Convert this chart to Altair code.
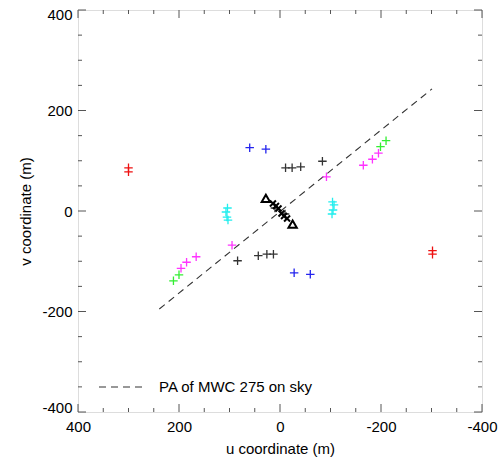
import altair as alt
import pandas as pd

# ---- data ----
red_u = [300, 300, -302, -302]
red_v = [86, 78, -79, -86]
blue_u = [60, 28, -28, -60]
blue_v = [126, 123, -123, -126]
gray_u = [-11, -24, -41, -84, 84, 43, 26, 13, 10, -10]
gray_v = [86, 86, 88, 99, -99, -89, -86, -86, 6, -6]
magenta_u = [-92, -165, -183, -195, 95, 166, 185, 196]
magenta_v = [68, 91, 103, 115, -68, -91, -102, -114]
green_u = [-199, -210, 200, 211]
green_v = [128, 140, -127, -139]
cyan_u = [-104, -107, -105, -103, 104, 107, 105, 103]
cyan_v = [18, 12, 2, -6, 6, -2, -12, -18]

x_u = [14, -14, 8, -8, 3, -3]
x_v = [15, -15, 10, -10, 5, -5]
tri_u = [28, -25]
tri_v = [25, -26]

pa_u = [239, -301]
pa_v = [-195, 243]

major_ticks = [-400, -200, 0, 200, 400]
minor_ticks = [-350, -300, -250, -150, -100, -50, 50, 100, 150, 250, 300, 350]

groups = ["red", "blue", "gray", "magenta", "green", "cyan"]
group_colors = ["#ee1111", "#2424ee", "#333333", "#ff33ff", "#33ee33", "#22eeee"]

rows = []
for g, us, vs in [("red", red_u, red_v), ("blue", blue_u, blue_v),
                  ("gray", gray_u, gray_v), ("magenta", magenta_u, magenta_v),
                  ("green", green_u, green_v), ("cyan", cyan_u, cyan_v)]:
    for u, v in zip(us, vs):
        rows.append({"u": u, "v": v, "g": g})
pts = pd.DataFrame(rows)
xdf = pd.DataFrame({"u": x_u, "v": x_v})
tdf = pd.DataFrame({"u": tri_u, "v": tri_v})
ldf = pd.DataFrame({"u": pa_u, "v": pa_v})

W, H = 404, 402
FONT = "Liberation Sans"
LABEL_EXPR = "'' + datum.value"

xscale = alt.Scale(domain=[400, -400], nice=False, zero=False)
yscale = alt.Scale(domain=[-400, 400], nice=False, zero=False)
xaxis = alt.Axis(values=major_ticks, ticks=False, domain=False, grid=False,
                 labelFlush=False, labelOverlap=False, labelPadding=7,
                 labelFontSize=15, labelFont=FONT, labelColor="black",
                 labelExpr=LABEL_EXPR,
                 title="u coordinate (m)", titleFont=FONT, titleFontSize=15,
                 titleFontWeight="normal", titleColor="black",
                 titleX=W / 2, titleY=36, titleBaseline="middle", titleAlign="center")
yaxis = alt.Axis(values=major_ticks, ticks=False, domain=False, grid=False,
                 labelFlush=True, labelFlushOffset=3, labelOverlap=False, labelPadding=6,
                 labelFontSize=15, labelFont=FONT, labelColor="black",
                 labelExpr=LABEL_EXPR,
                 title="v coordinate (m)", titleFont=FONT, titleFontSize=15,
                 titleFontWeight="normal", titleColor="black",
                 titleX=-53, titleY=H / 2, titleBaseline="middle", titleAlign="center",
                 titleAngle=270)


def X(field):
    return alt.X(field, type="quantitative", scale=xscale, axis=xaxis)


def Y(field):
    return alt.Y(field, type="quantitative", scale=yscale, axis=yaxis)


cross = "M-1,0L1,0M0,-1L0,1"
xshape = "M-1,-1L1,1M-1,1L1,-1"

line = alt.Chart(ldf).mark_line(color="#333333", strokeWidth=1.1, strokeDash=[7, 5]).encode(
    x=X("u"), y=Y("v"))

crosses = alt.Chart(pts).mark_point(shape=cross, filled=False, size=72, strokeWidth=1.3, opacity=1).encode(
    x=X("u"), y=Y("v"),
    color=alt.Color("g:N", scale=alt.Scale(domain=groups, range=group_colors), legend=None))

xs = alt.Chart(xdf).mark_point(shape=xshape, filled=False, size=36, strokeWidth=2, color="black", opacity=1).encode(
    x=X("u"), y=Y("v"))

tris = alt.Chart(tdf).mark_point(shape="triangle-up", filled=False, size=70, strokeWidth=2, color="black", opacity=1).encode(
    x=X("u"), y=Y("v"))

TICK = "#555555"


def tick_layers(vals, L):
    df = pd.DataFrame({"t": vals})
    base = alt.Chart(df).mark_rule(color=TICK, strokeWidth=1)
    return [
        base.encode(x=X("t"), y=alt.value(H), y2=alt.value(H - L)),
        base.encode(x=X("t"), y=alt.value(0), y2=alt.value(L)),
        base.encode(y=Y("t"), x=alt.value(0), x2=alt.value(L)),
        base.encode(y=Y("t"), x=alt.value(W), x2=alt.value(W - L)),
    ]


ticks = tick_layers(major_ticks, 8) + tick_layers(minor_ticks, 4)

leg_line = alt.Chart(pd.DataFrame({"a": [0]})).mark_rule(
    color="#333333", strokeWidth=1.1, strokeDash=[7, 5]).encode(
    x=alt.value(21), x2=alt.value(66), y=alt.value(377))
leg_text = alt.Chart(pd.DataFrame({"a": [0]})).mark_text(
    text="PA of MWC 275 on sky", align="left", baseline="middle",
    font=FONT, fontSize=15, color="black").encode(
    x=alt.value(81), y=alt.value(377))

chart = alt.layer(line, crosses, xs, tris, *ticks, leg_line, leg_text).properties(
    width=W, height=H,
    autosize=alt.AutoSizeParams(type="none"),
    padding={"left": 78, "top": 10, "right": 18, "bottom": 46},
).configure_view(stroke="#555555", strokeWidth=1).configure(background="white")

chart.save("out.html", embed_options={"renderer": "svg", "actions": False})
